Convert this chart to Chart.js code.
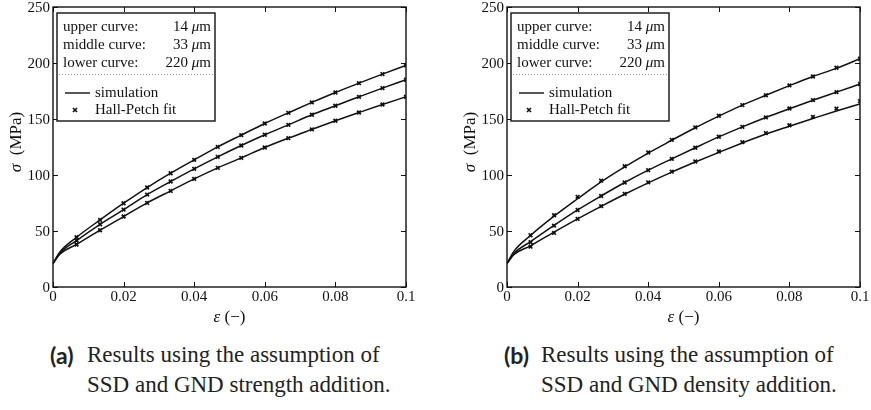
<!DOCTYPE html>
<html>
<head>
<meta charset="utf-8">
<script src="https://cdn.jsdelivr.net/npm/chart.js@4"></script>
<style>
  body { margin: 0; background: #fff; }
  #page { position: relative; width: 871px; height: 410px; overflow: hidden; }
  .plot { position: absolute; top: 0; }
  .cap { position: absolute; top: 340px; display: flex; font-family: "Liberation Serif", serif; font-size: 23px; line-height: 30px; color: #222; }
  .cap .lab { font-family: Lato, "Open Sans", sans-serif; font-weight: 700; width: 37px; }
</style>
</head>
<body>
<div id="page">
  <canvas id="chartA" class="plot" width="417" height="330" style="left:0px"></canvas>
  <canvas id="chartB" class="plot" width="417" height="330" style="left:454px"></canvas>
  <div class="cap" style="left:50px"><span class="lab">(a)</span><span>Results using the assumption of<br>SSD and GND strength addition.</span></div>
  <div class="cap" style="left:504px"><span class="lab">(b)</span><span>Results using the assumption of<br>SSD and GND density addition.</span></div>
</div>
<script>
// strain positions of the Hall-Petch markers and of the simulation curve
const strainFit = [0.00667, 0.01333, 0.02, 0.02667, 0.03333, 0.04, 0.04667, 0.05333, 0.06, 0.06667, 0.07333, 0.08, 0.08667, 0.09333, 0.1];
const strainSim = [0, 0.002, 0.00667, 0.01333, 0.02, 0.02667, 0.03333, 0.04, 0.04667, 0.05333, 0.06, 0.06667, 0.07333, 0.08, 0.08667, 0.09333, 0.1];

// (a) strength addition
const simUpperA = [21, 31.5, 44.4, 59.9, 74.8, 88.8, 101.6, 113.5, 125.1, 135.6, 146.0, 155.5, 164.8, 173.7, 182.0, 190.1, 197.9];
const simMiddleA = [21, 30.5, 41.5, 56.0, 69.1, 82.5, 94.2, 105.5, 116.2, 126.3, 135.9, 144.8, 153.8, 161.8, 169.8, 177.6, 185.0];
const simLowerA = [21, 29.5, 38.0, 50.7, 62.9, 75.1, 85.8, 96.5, 106.4, 115.3, 124.6, 132.9, 140.7, 148.4, 155.8, 163.0, 169.8];
const fitUpperA = [44.4, 59.9, 74.8, 88.8, 101.6, 113.5, 125.1, 135.6, 146.0, 155.5, 164.8, 173.7, 182.0, 190.1, 197.9];
const fitMiddleA = [41.5, 56.0, 69.1, 82.5, 94.2, 105.5, 116.2, 126.3, 135.9, 144.8, 153.8, 161.8, 169.8, 177.6, 185.0];
const fitLowerA = [38.0, 50.7, 62.9, 75.1, 85.8, 96.5, 106.4, 115.3, 124.6, 132.9, 140.7, 148.4, 155.8, 163.0, 169.8];

// (b) density addition
const simUpperB = [21, 32, 46.0, 63.2, 78.8, 93.8, 107.2, 119.6, 131.0, 142.2, 152.6, 162.4, 171.2, 179.8, 188.0, 195.2, 203.8];
const simMiddleB = [21, 30, 40.5, 55.0, 68.8, 81.3, 93.3, 104.3, 114.4, 124.3, 134.0, 143.0, 151.4, 159.2, 166.8, 174.0, 181.2];
const simLowerB = [21, 29, 36.8, 49.0, 60.8, 72.0, 82.8, 93.0, 102.6, 111.6, 120.2, 128.6, 136.6, 143.6, 150.5, 157.2, 163.5];
const fitUpperB = [46.2, 64.1, 80.5, 95.0, 107.8, 120.1, 131.4, 142.5, 152.9, 162.4, 171.2, 180.0, 188.0, 195.8, 203.8];
const fitMiddleB = [40.0, 54.8, 68.8, 81.3, 93.3, 104.3, 114.4, 124.3, 134.1, 143.0, 151.4, 159.4, 166.9, 174.0, 181.2];
const fitLowerB = [36.0, 48.3, 60.8, 72.2, 83.2, 93.4, 103.0, 112.1, 121.0, 129.3, 137.4, 144.4, 151.9, 159.3, 166.0];

const xTicks = [0, 0.02, 0.04, 0.06, 0.08, 0.1];
const xTickLabels = ['0', '0.02', '0.04', '0.06', '0.08', '0.1'];
const yTicks = [0, 50, 100, 150, 200, 250];
const yTickLabels = ['0', '50', '100', '150', '200', '250'];
const curveLabels = ['upper curve:', 'middle curve:', 'lower curve:'];
const grainSizes = ['14', '33', '220'];
const seriesLabels = ['simulation', 'Hall-Petch fit'];

const serif = '"Liberation Serif", serif';
const ink = '#111';

function pts(xs, ys) {
    return xs.map((x, i) => ({x: x, y: ys[i]}));
}

// draw "sym rest" with the symbol in italics, centred on cx
function mixedText(ctx, sym, rest, cx, cy, size) {
    ctx.font = 'italic ' + size + 'px ' + serif;
    const w1 = ctx.measureText(sym).width;
    ctx.font = size + 'px ' + serif;
    const w2 = ctx.measureText(rest).width;
    let x0 = cx - (w1 + w2) / 2;
    ctx.textAlign = 'left';
    ctx.textBaseline = 'middle';
    ctx.font = 'italic ' + size + 'px ' + serif;
    ctx.fillText(sym, x0, cy);
    ctx.font = size + 'px ' + serif;
    ctx.fillText(rest, x0 + w1, cy);
}

// box round the plot, inward ticks on all four sides, tick labels and axis titles
const frameTicks = {
    id: 'frameTicks',
    afterDatasetsDraw(chart) {
        const {ctx, chartArea: a, scales: {x, y}} = chart;
        const len = 5;
        ctx.save();
        ctx.strokeStyle = ink;
        ctx.lineWidth = 1;
        ctx.beginPath();
        xTicks.forEach(v => {
            const px = Math.round(x.getPixelForValue(v)) + 0.5;
            ctx.moveTo(px, a.bottom); ctx.lineTo(px, a.bottom - len);
            ctx.moveTo(px, a.top); ctx.lineTo(px, a.top + len);
        });
        yTicks.forEach(v => {
            const py = Math.round(y.getPixelForValue(v)) + 0.5;
            ctx.moveTo(a.left, py); ctx.lineTo(a.left + len, py);
            ctx.moveTo(a.right, py); ctx.lineTo(a.right - len, py);
        });
        ctx.stroke();
        ctx.lineWidth = 1.4;
        ctx.strokeRect(a.left, a.top, a.right - a.left, a.bottom - a.top);

        ctx.fillStyle = ink;
        ctx.font = '15px ' + serif;
        ctx.textAlign = 'center';
        ctx.textBaseline = 'top';
        xTicks.forEach((v, i) => ctx.fillText(xTickLabels[i], x.getPixelForValue(v), a.bottom + 3));
        ctx.textAlign = 'right';
        ctx.textBaseline = 'middle';
        yTicks.forEach((v, i) => ctx.fillText(yTickLabels[i], a.left - 3, y.getPixelForValue(v) + 1));

        mixedText(ctx, '\u03b5', ' (\u2212)', (a.left + a.right) / 2, 318, 17);
        ctx.save();
        ctx.translate(17, (a.top + a.bottom) / 2 - 5);
        ctx.rotate(-Math.PI / 2);
        mixedText(ctx, '\u03c3', '\u2002(MPa)', 0, 0, 17);
        ctx.restore();
        ctx.restore();
    }
};

// matlab style legend box
const boxLegend = {
    id: 'boxLegend',
    afterDraw(chart) {
        const {ctx, chartArea: a} = chart;
        const bx = a.left + 4, by = a.top + 6, bw = 158, bh = 108;
        ctx.save();
        ctx.fillStyle = '#fff';
        ctx.fillRect(bx, by, bw, bh);
        ctx.strokeStyle = ink;
        ctx.lineWidth = 1.4;
        ctx.strokeRect(bx, by, bw, bh);

        ctx.fillStyle = ink;
        ctx.textBaseline = 'middle';
        const right = bx + bw - 4;
        curveLabels.forEach((lab, i) => {
            const cy = by + 14 + i * 18;
            ctx.font = '15px ' + serif;
            ctx.textAlign = 'left';
            ctx.fillText(lab, bx + 6, cy);
            ctx.textAlign = 'right';
            ctx.fillText('m', right, cy);
            const mW = ctx.measureText('m').width;
            ctx.font = 'italic 15px ' + serif;
            ctx.fillText('\u03bc', right - mW, cy);
            const muW = ctx.measureText('\u03bc').width;
            ctx.font = '15px ' + serif;
            ctx.fillText(grainSizes[i] + ' ', right - mW - muW, cy);
        });

        // dotted separator
        ctx.strokeStyle = '#999';
        ctx.lineWidth = 1;
        ctx.setLineDash([1, 2]);
        ctx.beginPath();
        ctx.moveTo(bx + 2, by + 61.5);
        ctx.lineTo(bx + bw - 2, by + 61.5);
        ctx.stroke();
        ctx.setLineDash([]);

        // simulation entry
        ctx.strokeStyle = ink;
        ctx.lineWidth = 1.4;
        ctx.beginPath();
        ctx.moveTo(bx + 8, by + 80);
        ctx.lineTo(bx + 33, by + 80);
        ctx.stroke();
        ctx.textAlign = 'left';
        ctx.font = '15px ' + serif;
        ctx.fillText(seriesLabels[0], bx + 38, by + 80);

        // fit entry
        const mx = bx + 18, my = by + 97, r = 2;
        ctx.lineWidth = 1.6;
        ctx.beginPath();
        ctx.moveTo(mx - r, my - r); ctx.lineTo(mx + r, my + r);
        ctx.moveTo(mx - r, my + r); ctx.lineTo(mx + r, my - r);
        ctx.stroke();
        ctx.fillText(seriesLabels[1], bx + 38, by + 97);
        ctx.restore();
    }
};

function simSet(data) {
    return {
        data: data, showLine: true, pointRadius: 0, borderColor: ink,
        borderWidth: 1.5, cubicInterpolationMode: 'monotone', fill: false
    };
}

function fitSet(data) {
    return {
        data: data, showLine: false, pointStyle: 'crossRot', pointRadius: 2.6,
        pointBorderWidth: 1.7, borderColor: ink, backgroundColor: ink
    };
}

function drawChart(elementId, sims, fits) {
    const ctx = document.getElementById(elementId).getContext('2d');
    const datasets = [];
    sims.forEach(s => datasets.push(simSet(pts(strainSim, s))));
    fits.forEach(f => datasets.push(fitSet(pts(strainFit, f))));

    return new Chart(ctx, {
        type: 'scatter',
        data: {datasets: datasets},
        options: {
            responsive: false,
            animation: false,
            events: [],
            layout: {padding: {top: 7, right: 11, left: 0, bottom: 0}},
            plugins: {legend: {display: false}, tooltip: {enabled: false}},
            scales: {
                x: {
                    type: 'linear', min: 0, max: 0.1,
                    afterBuildTicks: s => { s.ticks = xTicks.map(v => ({value: v})); },
                    afterFit: s => { s.height = 43; },
                    grid: {display: false},
                    border: {display: false},
                    ticks: {display: false}
                },
                y: {
                    type: 'linear', min: 0, max: 250,
                    afterBuildTicks: s => { s.ticks = yTicks.map(v => ({value: v})); },
                    afterFit: s => { s.width = 53; },
                    grid: {display: false},
                    border: {display: false},
                    ticks: {display: false}
                }
            }
        },
        plugins: [frameTicks, boxLegend]
    });
}

drawChart('chartA', [simUpperA, simMiddleA, simLowerA], [fitUpperA, fitMiddleA, fitLowerA]);
drawChart('chartB', [simUpperB, simMiddleB, simLowerB], [fitUpperB, fitMiddleB, fitLowerB]);
</script>
</body>
</html>
